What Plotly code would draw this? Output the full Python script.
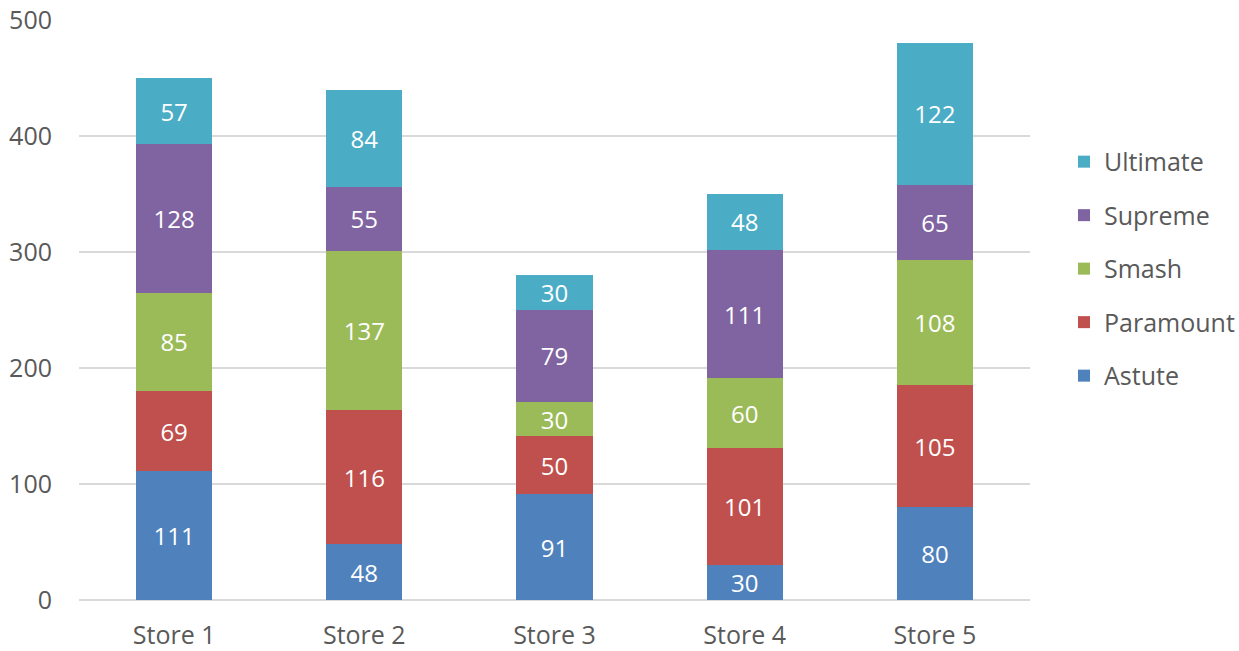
import plotly.graph_objects as go

stores = ["Store 1", "Store 2", "Store 3", "Store 4", "Store 5"]
astute = [111, 48, 91, 30, 80]
paramount = [69, 116, 50, 101, 105]
smash = [85, 137, 30, 60, 108]
supreme = [128, 55, 79, 111, 65]
ultimate = [57, 84, 30, 48, 122]

series = [
    ("Astute", astute, "#4F81BD"),
    ("Paramount", paramount, "#C0504D"),
    ("Smash", smash, "#9BBB59"),
    ("Supreme", supreme, "#8064A2"),
    ("Ultimate", ultimate, "#4BACC6"),
]

font_family = "Open Sans, Noto Sans, sans-serif"
text_gray = "#595959"
grid_gray = "#D9D9D9"
fs = 25

fig = go.Figure()
for i, (name, vals, color) in enumerate(series):
    fig.add_trace(go.Bar(
        name=name,
        x=stores,
        y=vals,
        marker=dict(color=color, line=dict(width=0)),
        text=[str(v) for v in vals],
        textposition="inside",
        insidetextanchor="middle",
        textangle=0,
        constraintext="none",
        textfont=dict(color="white", size=24, family=font_family),
        legendgroup=name,
        legendrank=len(series) - i,
        hoverinfo="x+y+name",
    ))

fig.update_layout(
    barmode="stack",
    bargap=0.6,
    width=1239,
    height=651,
    margin=dict(l=79, r=209, t=20, b=51),
    plot_bgcolor="white",
    paper_bgcolor="white",
    font=dict(family=font_family, size=fs, color=text_gray),
    uniformtext=dict(minsize=24, mode="show"),
    legend=dict(
        xref="container", yref="paper",
        x=1064 / 1239, y=0.795, xanchor="left", yanchor="top",
        traceorder="grouped",
        tracegroupgap=18,
        font=dict(size=fs, color=text_gray, family=font_family),
        itemwidth=30,
    ),
    xaxis=dict(
        showgrid=False,
        showline=False,
        ticks="",
        tickfont=dict(size=fs, color=text_gray),
        ticklabelstandoff=18,
        automargin=False,
    ),
    yaxis=dict(
        range=[0, 500],
        tickvals=[0, 100, 200, 300, 400, 500],
        showgrid=True,
        gridcolor=grid_gray,
        gridwidth=2,
        zeroline=True,
        zerolinecolor=grid_gray,
        zerolinewidth=2,
        showline=False,
        ticks="",
        tickfont=dict(size=fs, color=text_gray),
        ticklabelstandoff=26,
        automargin=False,
    ),
)

fig.write_html("out.html")
